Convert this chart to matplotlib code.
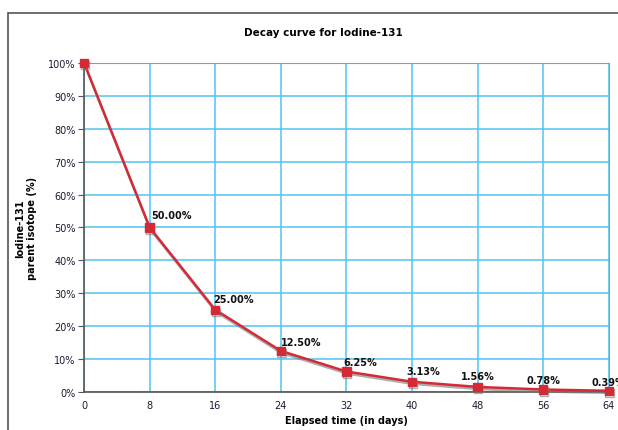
import matplotlib
matplotlib.use("Agg")
import matplotlib.pyplot as plt
import matplotlib.patheffects as pe
from matplotlib.patches import Rectangle
from matplotlib.ticker import FuncFormatter

days = [0, 8, 16, 24, 32, 40, 48, 56, 64]
remaining = [100, 50, 25, 12.5, 6.25, 3.13, 1.56, 0.78, 0.39]
labels = ["", "50.00%", "25.00%", "12.50%", "6.25%", "3.13%", "1.56%", "0.78%", "0.39%"]

# label offsets in points (dx, dy) relative to the point
offsets = [(0, 0), (16, 5), (13, 4), (15, 3), (10, 3), (8, 4), (0, 4), (0, 3), (0, 3)]

fig = plt.figure(figsize=(6.18, 4.31), dpi=100)
ax = fig.add_axes([0.136, 0.088, 0.849, 0.764])

# outer frame of the chart object
fig.patches.append(Rectangle((8 / 618, -0.05), 1.0, 1 - 14 / 431 + 0.05,
                             transform=fig.transFigure, fill=False,
                             edgecolor="#555555", linewidth=1.2))

ax.set_xlim(0, 64)
ax.set_ylim(0, 100)
ax.set_xticks(days)
ax.set_yticks(range(0, 101, 10))
ax.yaxis.set_major_formatter(FuncFormatter(lambda v, p: f"{v:.0f}%"))
ax.grid(True, color="#4fc3f0", linewidth=1.1)
ax.set_axisbelow(True)

for s in ["top", "right"]:
    ax.spines[s].set_color("#999999")
for s in ["left", "bottom"]:
    ax.spines[s].set_color("#555555")
    ax.spines[s].set_linewidth(1.2)

ax.tick_params(axis="y", length=4, color="#555555", labelsize=7, labelcolor="#1a1a33", pad=2)
ax.tick_params(axis="x", length=0, labelsize=7, labelcolor="#1a1a33", pad=6)

ax.plot(days, remaining, color="#d42a35", linewidth=1.8, marker="s", markersize=6,
        markeredgecolor="#d42a35", clip_on=False, zorder=5,
        path_effects=[pe.SimpleLineShadow(offset=(0.5, -1.5), shadow_color="#777777", alpha=0.6),
                      pe.Normal()])

for x, y, t, (dx, dy) in zip(days, remaining, labels, offsets):
    if t:
        ax.annotate(t, (x, y), xytext=(dx, dy), textcoords="offset points",
                    ha="center", va="bottom", fontsize=7, fontweight="bold",
                    color="#111111", annotation_clip=False, zorder=6)

fig.text(0.524, 0.923, "Decay curve for Iodine-131", ha="center", va="center",
         fontsize=7.5, fontweight="bold")
ax.set_xlabel("Elapsed time (in days)", fontsize=7, fontweight="bold", labelpad=3)
ax.set_ylabel("Iodine-131\nparent isotope (%)", fontsize=7, fontweight="bold", labelpad=8)

fig.savefig("out.png", dpi=100)
